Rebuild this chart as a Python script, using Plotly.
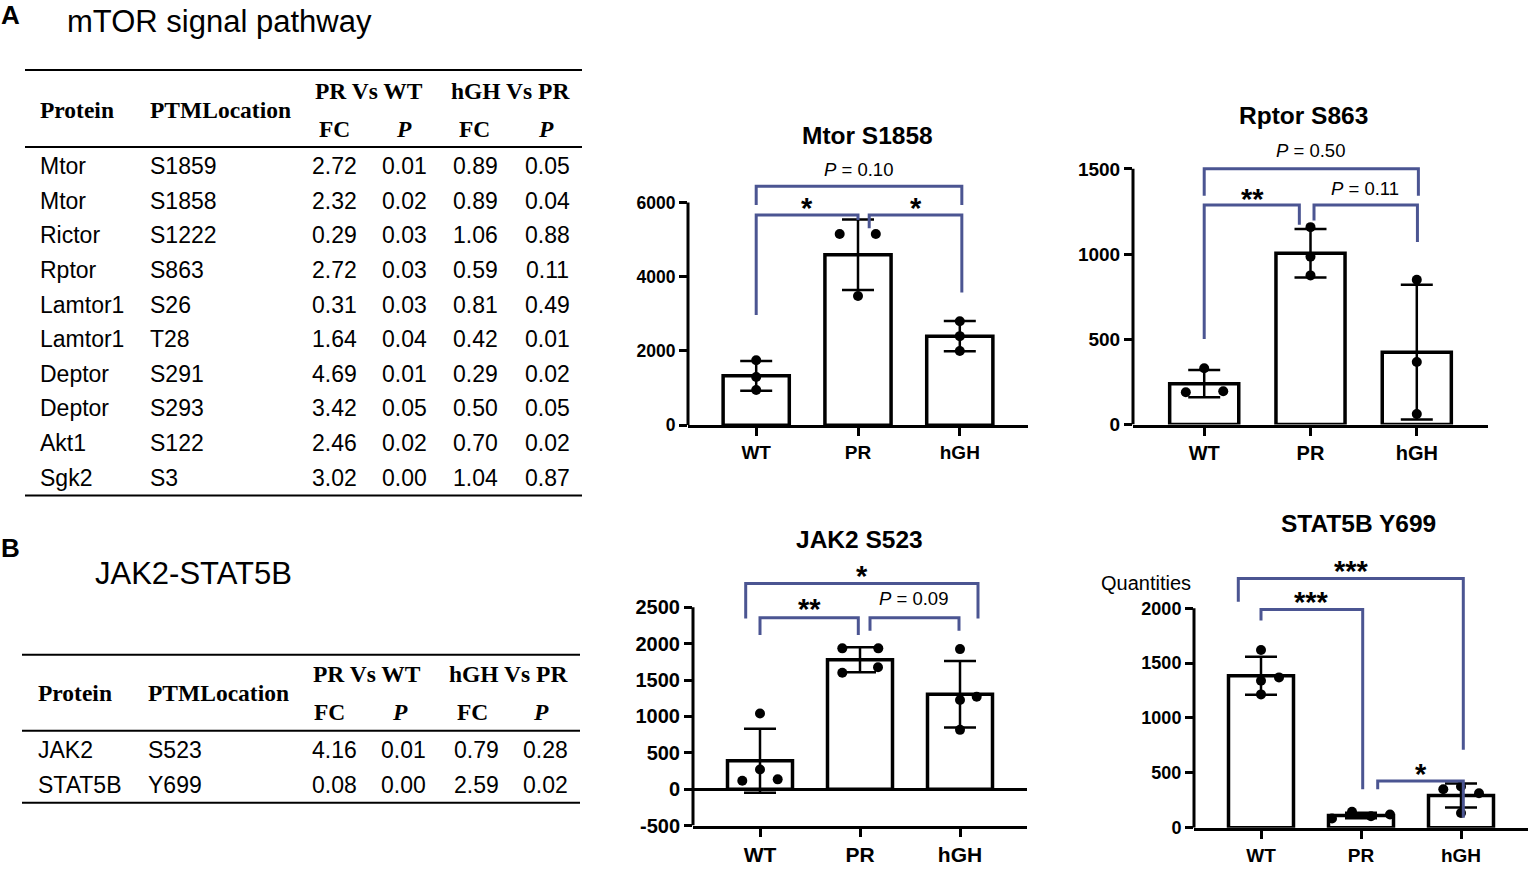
import plotly.graph_objects as go

W, H = 1533, 873
SANS = "Liberation Sans, Arial, sans-serif"
SERIF = "Liberation Serif, Times New Roman, serif"
BRACKET = "#4b5592"

groups = ["WT", "PR", "hGH"]

# ---- table A: mTOR signal pathway
mtor_proteins = ["Mtor", "Mtor", "Rictor", "Rptor", "Lamtor1", "Lamtor1", "Deptor", "Deptor", "Akt1", "Sgk2"]
mtor_sites = ["S1859", "S1858", "S1222", "S863", "S26", "T28", "S291", "S293", "S122", "S3"]
mtor_fc_pr_wt = ["2.72", "2.32", "0.29", "2.72", "0.31", "1.64", "4.69", "3.42", "2.46", "3.02"]
mtor_p_pr_wt = ["0.01", "0.02", "0.03", "0.03", "0.03", "0.04", "0.01", "0.05", "0.02", "0.00"]
mtor_fc_hgh_pr = ["0.89", "0.89", "1.06", "0.59", "0.81", "0.42", "0.29", "0.50", "0.70", "1.04"]
mtor_p_hgh_pr = ["0.05", "0.04", "0.88", "0.11", "0.49", "0.01", "0.02", "0.05", "0.02", "0.87"]

# ---- table B: JAK2-STAT5B
jak_proteins = ["JAK2", "STAT5B"]
jak_sites = ["S523", "Y699"]
jak_fc_pr_wt = ["4.16", "0.08"]
jak_p_pr_wt = ["0.01", "0.00"]
jak_fc_hgh_pr = ["0.79", "2.59"]
jak_p_hgh_pr = ["0.28", "0.02"]

# ---- bar charts (replicates, mean, SD per group WT / PR / hGH)
mtor_wt = [1750, 1300, 950]
mtor_pr = [5150, 5150, 3480]
mtor_hgh = [2800, 2400, 2000]
mtor_mean = [1330, 4590, 2400]
mtor_sd = [400, 950, 405]

rptor_wt = [330, 190, 195]
rptor_pr = [1158, 985, 875]
rptor_hgh = [849, 367, 62]
rptor_mean = [240, 1005, 425]
rptor_sd = [80, 142, 395]

jak2_wt = [1040, 270, 115, 135]
jak2_pr = [1935, 1935, 1600, 1675]
jak2_hgh = [1925, 1225, 1270, 815]
jak2_mean = [392, 1780, 1305]
jak2_sd = [440, 172, 457]

stat5b_wt = [1620, 1340, 1370, 1215]
stat5b_pr = [85, 145, 105, 120]
stat5b_hgh = [350, 375, 315, 135]
stat5b_mean = [1385, 112, 294]
stat5b_sd = [173, 25, 110]

# significance brackets: (x left, left leg end, x right, right leg end, top)
mtor_brackets = [(0, 5929, 2.02, 5929, 6436), (0, 2969, 1.0, 5529, 5662), (1.11, 5307, 2.02, 3573, 5662)]
rptor_brackets = [(0, 1342, 2.015, 1342, 1500), (0, 502, 0.895, 1172, 1288), (1.033, 1197, 2.006, 1071, 1288)]
jak2_brackets = [(-0.143, 2344, 2.18, 2344, 2828), (0, 2118, 0.983, 2118, 2357), (1.10, 2176, 1.99, 2176, 2357)]
stat5b_brackets = [(-0.227, 2060, 2.023, 711, 2270), (0, 1889, 1.017, 351, 1988), (1.167, 351, 2.023, 90, 426)]

mtor_labels = [(1.0, 6885, "<i>P</i> = 0.10"), (0.5, 6045, "*"), (1.57, 6045, "*")]
rptor_labels = [(1.0, 1606, "<i>P</i> = 0.50"), (0.456, 1367, "**"), (1.513, 1386, "<i>P</i> = 0.11")]
jak2_labels = [(1.02, 3022, "*"), (0.49, 2570, "**"), (1.53, 2614, "<i>P</i> = 0.09")]
stat5b_labels = [(0.907, 2406, "***"), (0.507, 2119, "***"), (1.6, 554, "*")]

# horizontal spread of the dots inside each group
mtor_jitter = [[0, 0, 0], [-0.18, 0.175, 0], [0, 0, 0]]
rptor_jitter = [[0, -0.173, 0.179], [0, 0, 0], [0, 0, 0]]
jak2_jitter = [[0, 0, -0.177, 0.177], [-0.177, 0.183, -0.177, 0.18], [0, 0, 0.167, 0]]
stat5b_jitter = [[0, 0, 0.18, 0], [-0.29, -0.09, 0.1, 0.29], [-0.177, 0, 0.18, 0]]

panels = [
    dict(title="Mtor S1858", title_xy=(867, 137), pts=[mtor_wt, mtor_pr, mtor_hgh], mean=mtor_mean, sd=mtor_sd,
         jitter=mtor_jitter, ticks=[0, 2000, 4000, 6000], brackets=mtor_brackets, labels=mtor_labels,
         frame=(688, 1028, 0, 6000, 430.7, 205, 7150), fonts=(17.5, 19), zero=False),
    dict(title="Rptor S863", title_xy=(1303, 117), pts=[rptor_wt, rptor_pr, rptor_hgh], mean=rptor_mean, sd=rptor_sd,
         jitter=rptor_jitter, ticks=[0, 500, 1000, 1500], brackets=rptor_brackets, labels=rptor_labels,
         frame=(1133, 1488, 0, 1500, 430, 171, 1660), fonts=(19, 20), zero=False),
    dict(title="JAK2 S523", title_xy=(859, 546), pts=[jak2_wt, jak2_pr, jak2_hgh], mean=jak2_mean, sd=jak2_sd,
         jitter=jak2_jitter, ticks=[-500, 0, 500, 1000, 1500, 2000, 2500], brackets=jak2_brackets, labels=jak2_labels,
         frame=(693, 1027, -500, 2500, 836.1, 615, 3100), fonts=(20, 21), zero=True),
    dict(title="STAT5B Y699", title_xy=(1358, 530), pts=[stat5b_wt, stat5b_pr, stat5b_hgh], mean=stat5b_mean, sd=stat5b_sd,
         jitter=stat5b_jitter, ticks=[0, 500, 1000, 1500, 2000], brackets=stat5b_brackets, labels=stat5b_labels,
         frame=(1194, 1528, 0, 2000, 838.3, 616, 2460), fonts=(18, 19), zero=False),
]


def px(x):
    return x / W


def py(y):
    return 1 - y / H


def note(x, y, text, font, xanchor="center", xref="paper", yref="paper", yshift=0):
    return dict(x=x, y=y, xref=xref, yref=yref, text=text, showarrow=False, font=font,
                xanchor=xanchor, yanchor="middle", yshift=yshift)


fig = go.Figure()
shapes = []
annotations = []
layout_axes = {}

for n, p in enumerate(panels, start=1):
    sfx = "" if n == 1 else str(n)
    xr, yr = "x" + sfx, "y" + sfx
    pl, pr_, v0, v1, p0, p1, vtop = p["frame"]
    s = (p0 - p1) / (v1 - v0)
    ptop = p0 - (vtop - v0) * s
    yfont, xfont = p["fonts"]

    fig.add_trace(go.Bar(
        x=[0, 1, 2], y=p["mean"], width=0.65,
        marker=dict(color="white", line=dict(color="black", width=3.5)),
        error_y=dict(type="data", array=p["sd"], visible=True, thickness=2.5, width=16, color="black"),
        xaxis=xr, yaxis=yr, hoverinfo="skip",
    ))
    for i, vals in enumerate(p["pts"]):
        fig.add_trace(go.Scatter(
            x=[i + j for j in p["jitter"][i]], y=vals, mode="markers",
            marker=dict(color="black", size=10), cliponaxis=False,
            xaxis=xr, yaxis=yr, hoverinfo="skip",
        ))

    layout_axes["xaxis" + sfx] = dict(
        domain=[px(pl), px(pr_)], range=[-0.67, 2.67], anchor=yr,
        tickvals=[0, 1, 2], ticktext=groups, showline=True, linewidth=3, linecolor="black",
        ticks="outside", ticklen=8, tickwidth=2.5, tickcolor="black", showgrid=False, zeroline=False,
        tickfont=dict(family=SANS, size=xfont, color="black", weight="bold"), fixedrange=True,
    )
    layout_axes["yaxis" + sfx] = dict(
        domain=[py(p0), py(ptop)], range=[v0, vtop], anchor=xr,
        tickvals=p["ticks"], ticktext=[str(t) for t in p["ticks"]],
        showline=False, ticks="outside", ticklen=8, tickwidth=3, tickcolor="black",
        showgrid=False, zeroline=p["zero"], zerolinewidth=3, zerolinecolor="black",
        tickfont=dict(family=SANS, size=yfont, color="black", weight="bold"), fixedrange=True,
    )
    # y axis line stops at the top tick
    shapes.append(dict(type="line", xref=xr + " domain", yref=yr, x0=0, x1=0, y0=v0, y1=v1,
                       line=dict(color="black", width=3)))
    for (xa, ya, xb, yb, yt) in p["brackets"]:
        shapes.append(dict(type="path", xref=xr, yref=yr,
                           path=f"M {xa},{ya} L {xa},{yt} L {xb},{yt} L {xb},{yb}",
                           line=dict(color=BRACKET, width=3)))
    for (lx, ly, txt) in p["labels"]:
        if txt.startswith("*"):
            font = dict(family=SANS, size=29, color="black", weight="bold")
            annotations.append(note(lx, ly, txt, font, xref=xr, yref=yr, yshift=-7))
        else:
            font = dict(family=SANS, size=18.5, color="black")
            annotations.append(note(lx, ly, txt, font, xref=xr, yref=yr))
    tx, ty = p["title_xy"]
    annotations.append(note(px(tx), py(ty), p["title"], dict(family=SANS, size=24.5, color="black", weight="bold")))

annotations.append(note(px(1146), py(590), "Quantities", dict(family=SANS, size=20, color="black")))


# ---- tables
def add_table(top, head_rule, row0, step, x_left, x_right, cols, head, rows, letter_y, title, title_x, title_y):
    annotations.append(note(px(10), py(letter_y), title[0], dict(family=SANS, size=26, color="black", weight="bold")))
    annotations.append(note(px(title_x), py(title_y), title[1], dict(family=SANS, size=31, color="black"),
                            xanchor="left"))
    bottom = row0 + step * (len(rows[0]) - 1) + 18
    for yy in (top, head_rule, bottom):
        shapes.append(dict(type="line", xref="paper", yref="paper", x0=px(x_left), x1=px(x_right),
                           y0=py(yy), y1=py(yy), line=dict(color="black", width=2)))
    hf = dict(family=SERIF, size=23.5, color="black", weight="bold")
    for (hx, hy, txt, anchor) in head:
        annotations.append(note(px(hx), py(hy), txt, hf, xanchor=anchor))
    bf = dict(family=SANS, size=23, color="black")
    for c, (cx, anchor) in enumerate(cols):
        for r, txt in enumerate(rows[c]):
            annotations.append(note(px(cx), py(row0 + step * r), txt, bf, xanchor=anchor))


add_table(71, 149, 168, 35.1, 25, 582,
          [(38, "left"), (148, "left"), (334, "center"), (404, "center"), (475.5, "center"), (547.5, "center")],
          [(38, 111, "Protein", "left"), (148, 111, "PTMLocation", "left"), (369, 92, "PR Vs WT", "center"),
           (510, 92, "hGH Vs PR", "center"), (334, 131, "FC", "center"), (404, 131, "<i>P</i>", "center"),
           (474.5, 131, "FC", "center"), (546, 131, "<i>P</i>", "center")],
          [mtor_proteins, mtor_sites, mtor_fc_pr_wt, mtor_p_pr_wt, mtor_fc_hgh_pr, mtor_p_hgh_pr],
          15, ("A", "mTOR signal pathway"), 65, 22)

add_table(663, 740, 760, 35, 22, 580,
          [(36, "left"), (146, "left"), (334, "center"), (403, "center"), (476, "center"), (545.5, "center")],
          [(36, 702, "Protein", "left"), (146, 702, "PTMLocation", "left"), (366.5, 683, "PR Vs WT", "center"),
           (508, 683, "hGH Vs PR", "center"), (329, 721, "FC", "center"), (400, 721, "<i>P</i>", "center"),
           (472, 721, "FC", "center"), (541, 721, "<i>P</i>", "center")],
          [jak_proteins, jak_sites, jak_fc_pr_wt, jak_p_pr_wt, jak_fc_hgh_pr, jak_p_hgh_pr],
          555, ("B", "JAK2-STAT5B"), 93, 581)

fig.update_layout(
    width=W, height=H, margin=dict(l=0, r=0, t=0, b=0),
    paper_bgcolor="white", plot_bgcolor="white", showlegend=False,
    shapes=shapes, annotations=annotations, **layout_axes,
)

# drop the default page margin so the figure sits at the window origin
fig.write_html("out.html", config={"displayModeBar": False},
               post_script="document.body.style.margin = '0';")
